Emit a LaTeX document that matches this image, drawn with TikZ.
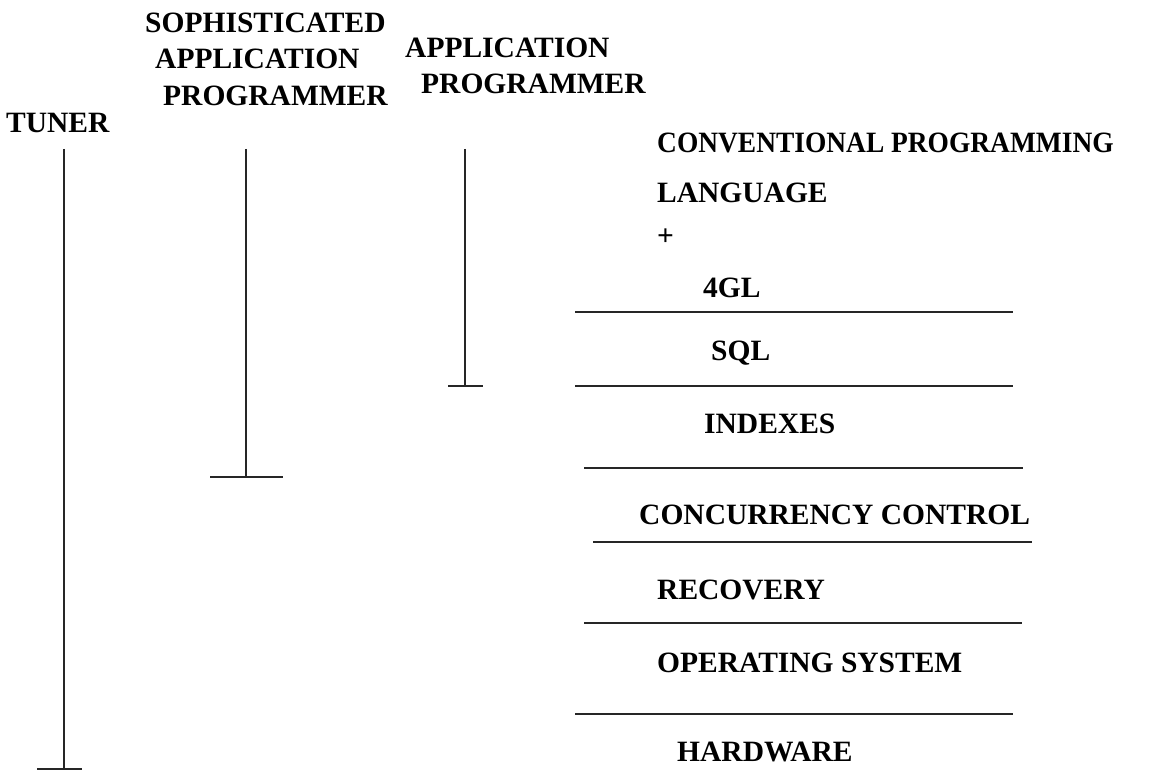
\documentclass[tikz,border=0pt]{standalone}
\usepackage{fontspec}
\setmainfont{Liberation Serif}
\begin{document}
\begin{tikzpicture}[x=1pt,y=-1pt,
  lbl/.style={anchor=base west,inner sep=0pt,font=\fontsize{29.5}{32}\selectfont\bfseries},
  rule/.style={line width=1.1pt,black!85},
  stem/.style={line width=1.1pt,black!85}]
\useasboundingbox (0,0) rectangle (1151,770);

% user roles
\node[lbl] (soph1) at (145,33) {SOPHISTICATED};
\node[lbl] (soph2) at (155,69) {APPLICATION};
\node[lbl] (soph3) at (163,106) {PROGRAMMER};
\node[lbl] (tuner) at (6,133) {TUNER};
\node[lbl] (app1) at (405,58) {APPLICATION};
\node[lbl] (app2) at (421,94) {PROGRAMMER};

% reach of each role down the stack
\coordinate (tunerTop) at (64,149);
\coordinate (tunerBot) at (64,769);
\coordinate (sophTop) at (246,149);
\coordinate (sophBot) at (246,477);
\coordinate (appTop) at (465,149);
\coordinate (appBot) at (465,386);
\draw[stem] (tunerTop) -- (tunerBot);
\draw[stem] (37,769) -- (82,769);
\draw[stem] (sophTop) -- (sophBot);
\draw[stem] (210,477) -- (283,477);
\draw[stem] (appTop) -- (appBot);
\draw[stem] (448,386) -- (483,386);

% system layers
\node[lbl] (conv) at (657,153) {\scalebox{0.93}[1]{CONVENTIONAL PROGRAMMING}};
\node[lbl] (lang) at (657,203) {LANGUAGE};
\node[lbl] (plus) at (657,245) {+};
\node[lbl] (fgl) at (703,297) {4GL};
\node[lbl] (sql) at (711,360) {SQL};
\node[lbl] (idx) at (704,433) {INDEXES};
\node[lbl] (cc) at (639,524) {CONCURRENCY CONTROL};
\node[lbl] (rec) at (657,599) {RECOVERY};
\node[lbl] (os) at (657,672) {OPERATING SYSTEM};
\node[lbl] (hw) at (677,761) {HARDWARE};

\draw[rule] (575,312) -- (1013,312);
\draw[rule] (575,386) -- (1013,386);
\draw[rule] (584,468) -- (1023,468);
\draw[rule] (593,542) -- (1032,542);
\draw[rule] (584,623) -- (1022,623);
\draw[rule] (575,714) -- (1013,714);
\end{tikzpicture}
\end{document}
